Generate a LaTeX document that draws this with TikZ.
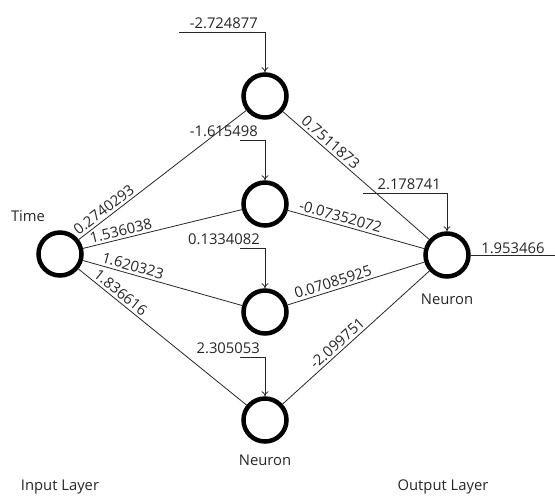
\documentclass[tikz,border=0pt]{standalone}
\usepackage{fontspec}
\setmainfont{Open Sans}
\usetikzlibrary{arrows.meta}
\begin{document}
\begin{tikzpicture}[x=1pt,y=-1pt,
  neuron/.style={circle,draw=black,line width=4.5pt,minimum size=43pt,inner sep=0pt},
  wire/.style={line width=0.8pt,draw=black!85},
  biasline/.style={line width=0.8pt,draw=black!85,-{To[length=5pt,width=7pt]}},
  txt/.style={font=\fontsize{14.8}{16}\selectfont,text=black!85,inner sep=1pt},
  wlab/.style={txt,sloped,above,inner sep=2.5pt}
]
\useasboundingbox (0,0) rectangle (555,496);
% nodes
\node[neuron] (in) at (60,254) {};
\node[neuron] (h1) at (265,96) {};
\node[neuron] (h2) at (265,204) {};
\node[neuron] (h3) at (265,312) {};
\node[neuron] (h4) at (265,420) {};
\node[neuron] (out) at (447,255) {};
% input to hidden
\draw[wire] (in) -- node[wlab,pos=0.18] {0.2740293} (h1);
\draw[wire] (in) -- node[wlab,pos=0.25] {1.536038} (h2);
\draw[wire] (in) -- node[wlab,pos=0.30] {1.620323} (h3);
\draw[wire] (in) -- node[wlab,pos=0.22] {1.836616} (h4);
% hidden to output
\draw[wire] (h1) -- node[wlab,pos=0.29] {0.7511873} (out);
\draw[wire] (h2) -- node[wlab,pos=0.37] {-0.07352072} (out);
\draw[wire] (h3) -- node[wlab,pos=0.35] {0.07085925} (out);
\draw[wire] (h4) -- node[wlab,pos=0.41] {-2.099751} (out);
% biases
\coordinate (b1) at (179,32);
\coordinate (b2) at (240,140);
\coordinate (b3) at (240,248);
\coordinate (b4) at (240,357);
\coordinate (bo) at (363,193);
\draw[biasline] (b1) -| (h1.north);
\draw[biasline] (b2) -| (h2.north);
\draw[biasline] (b3) -| (h3.north);
\draw[biasline] (b4) -| (h4.north);
\draw[biasline] (bo) -| (out.north);
\node[txt,anchor=south east] (t1) at (259,30) {-2.724877};
\node[txt,anchor=south east] (t2) at (259,138) {-1.615498};
\node[txt,anchor=south east] (t3) at (261,246) {0.1334082};
\node[txt,anchor=south east] (t4) at (261,355) {2.305053};
\node[txt,anchor=south east] (to) at (442,191) {2.178741};
% output
\coordinate (oend) at (555,255);
\draw[wire] (out) -- node[txt,above,midway] {1.953466} (oend);
% labels
\node[txt] (time) at (28,216) {Time};
\node[txt] (n1) at (265,460) {Neuron};
\node[txt] (n2) at (447,299) {Neuron};
\node[txt] (il) at (60,487) {Input Layer};
\node[txt] (ol) at (443,487) {Output Layer};
\end{tikzpicture}
\end{document}
